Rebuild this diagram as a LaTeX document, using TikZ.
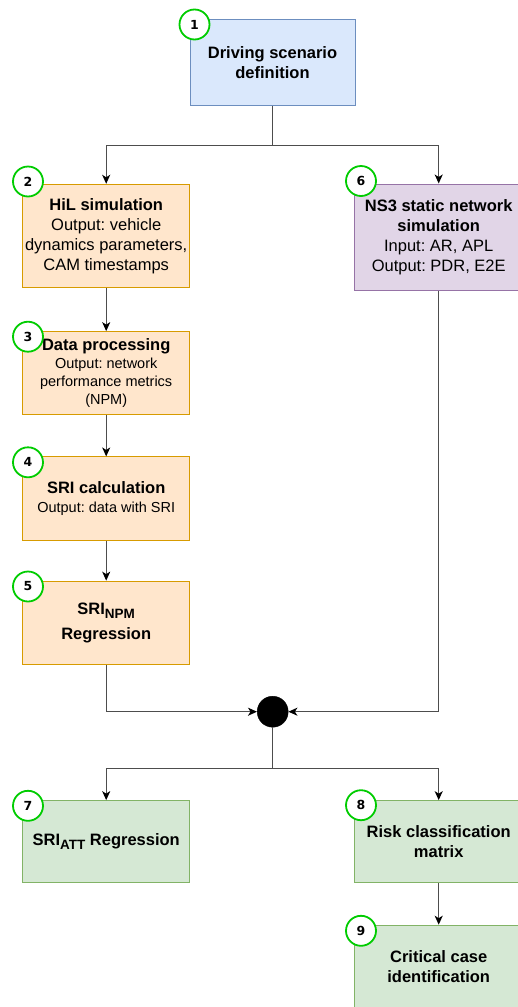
\documentclass[tikz,border=0pt]{standalone}
\usepackage{fontspec}
\setmainfont{Liberation Sans}
\newfontfamily\numfont{DejaVu Sans}
\usetikzlibrary{arrows.meta}
\definecolor{bluefill}{HTML}{DAE8FC}\definecolor{bluedraw}{HTML}{6C8EBF}
\definecolor{orfill}{HTML}{FFE6CC}\definecolor{ordraw}{HTML}{D79B00}
\definecolor{purfill}{HTML}{E1D5E7}\definecolor{purdraw}{HTML}{9673A6}
\definecolor{grfill}{HTML}{D5E8D4}\definecolor{grdraw}{HTML}{82B366}
\definecolor{numgreen}{HTML}{00CC00}
\definecolor{linecol}{HTML}{4D4D4D}
\newcommand{\subtxt}[1]{\raisebox{-4pt}{\fontsize{13.5}{14}\selectfont #1}}
\frenchspacing
\begin{document}
\begin{tikzpicture}[x=1pt,y=-1pt,
  box/.style={draw, rectangle, line width=1pt, align=center, inner sep=0pt, text=black, minimum width=167pt},
  bluebox/.style={box, fill=bluefill, draw=bluedraw},
  orbox/.style={box, fill=orfill, draw=ordraw},
  purbox/.style={box, fill=purfill, draw=purdraw},
  grbox/.style={box, fill=grfill, draw=grdraw},
  num/.style={circle, draw=numgreen, line width=1.8pt, fill=white, minimum size=30pt, inner sep=0pt, font=\numfont\bfseries\fontsize{12.5}{13}\selectfont},
  conn/.style={draw=linecol, line width=1.3pt},
  arr/.style={conn, -{Stealth[length=9pt, width=8pt, inset=2.5pt, fill=black, color=black]}},
  big/.style={font=\fontsize{16.5}{20}\selectfont},
  bigb/.style={font=\fontsize{16.5}{20}\selectfont\bfseries}
]
\useasboundingbox (0,0) rectangle (518,1007);
\clip (0,0) rectangle (518,1007);

% boxes
\node[bluebox, bigb, minimum width=165pt, minimum height=86pt] (b1) at (272.5,62.3) {Driving scenario\\definition};
\node[orbox, big, minimum height=103.4pt] (b2) at (106.2,236) {\textbf{HiL simulation}\\Output: vehicle\\dynamics parameters,\\CAM timestamps};
\node[purbox, big, minimum width=167.5pt, minimum height=106pt] (b6) at (438.7,237) {\textbf{NS3 static network}\\\textbf{simulation}\\Input: AR, APL\\Output: PDR, E2E};
\node[orbox, font=\fontsize{14.5}{18}\selectfont, minimum height=83.3pt] (b3) at (106.2,373.3) {{\fontsize{16.5}{18}\selectfont\bfseries Data processing}\\Output: network\\performance metrics\\(NPM)};
\node[orbox, font=\fontsize{14.5}{18.6}\selectfont, minimum height=83.7pt] (b4) at (106.2,498.8) {{\fontsize{16.5}{18}\selectfont\bfseries SRI calculation}\\Output: data with SRI};
\node[orbox, bigb, minimum height=83.7pt] (b5) at (106.2,623) {SRI\subtxt{NPM}\\[4.6pt]Regression};
\node[grbox, bigb, minimum height=82.3pt] (b7) at (106.2,841.8) {SRI\subtxt{ATT} Regression};
\node[grbox, bigb, minimum width=167.5pt, minimum height=82.3pt] (b8) at (438.7,841.8) {Risk classification\\matrix};
\node[grbox, bigb, minimum width=167.5pt, minimum height=83pt] (b9) at (438.7,966.7) {Critical case\\identification};

% merge point
\node[circle, fill=black, draw=black, minimum size=31pt, inner sep=0pt] (m) at (272.7,711.7) {};

% connectors
\draw[conn] (b1.south) -- ++(0,39.4) coordinate (j1);
\draw[arr] (j1) -| (b2.north);
\draw[arr] (j1) -| (b6.north);
\draw[arr] (b2.south) -- (b3.north);
\draw[arr] (b3.south) -- (b4.north);
\draw[arr] (b4.south) -- (b5.north);
\draw[arr] (b5.south) |- (m.west);
\draw[arr] (b6.south) |- (m.east);
\draw[conn] (m.south) -- ++(0,41.3) coordinate (j2);
\draw[arr] (j2) -| (b7.north);
\draw[arr] (j2) -| (b8.north);
\draw[arr] (b8.south) -- (b9.north);

% step numbers
\node[num] (n1) at (194.5,24.5) {1};
\node[num] (n2) at (28,181.5) {2};
\node[num] (n6) at (361,181) {6};
\node[num] (n3) at (28,336.7) {3};
\node[num] (n4) at (28,462.3) {4};
\node[num] (n5) at (28,586.5) {5};
\node[num] (n7) at (28,805.8) {7};
\node[num] (n8) at (361,805.2) {8};
\node[num] (n9) at (361,930.8) {9};
\end{tikzpicture}
\end{document}
